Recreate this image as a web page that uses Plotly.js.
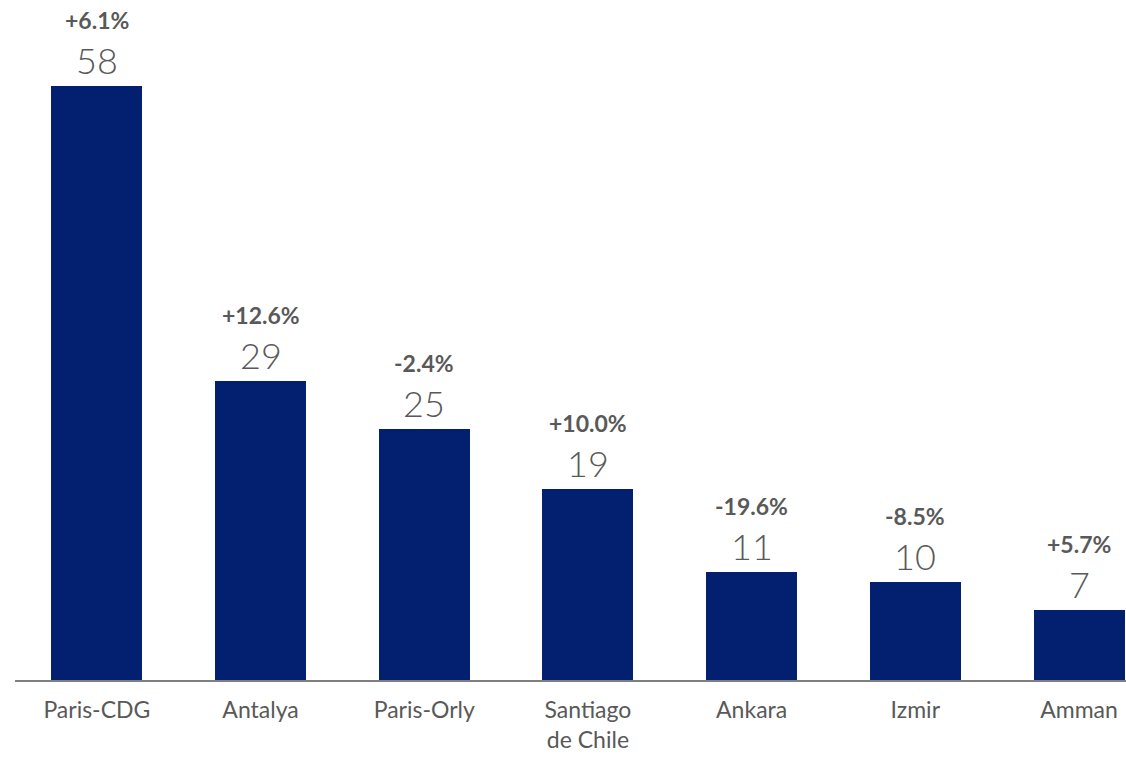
<!DOCTYPE html>
<html>
<head>
<meta charset="utf-8">
<script src="https://cdn.plot.ly/plotly-3.0.1.min.js"></script>
<style>html,body{margin:0;padding:0;background:#fff;}#chart{width:1126px;height:758px;}</style>
</head>
<body>
<div id="chart"></div>
<script>
const categories = ["Paris-CDG", "Antalya", "Paris-Orly", "Santiago<br>de Chile", "Ankara", "Izmir", "Amman"];
const values = [58.2, 29.3, 24.6, 18.7, 10.6, 9.6, 6.9];
const changes = ["+6.1%", "+12.6%", "-2.4%", "+10.0%", "-19.6%", "-8.5%", "+5.7%"];

const textGray = "#595959";
const fontFamily = "Lato, 'Open Sans', 'DejaVu Sans', sans-serif";

const trace = {
  type: "bar",
  x: categories,
  y: values,
  marker: {color: "#031F70"},
  width: 0.556,
  hoverinfo: "none"
};

const annotations = [];
categories.forEach((c, i) => {
  annotations.push({
    x: c, y: values[i], xref: "x", yref: "y",
    text: Math.round(values[i]).toString(),
    showarrow: false, yanchor: "bottom", yshift: 2,
    font: {family: fontFamily, size: 36, color: textGray, weight: 300}
  });
  annotations.push({
    x: c, y: values[i], xref: "x", yref: "y",
    text: "<b>" + changes[i] + "</b>",
    showarrow: false, yanchor: "bottom", yshift: 50,
    font: {family: fontFamily, size: 23, color: textGray}
  });
});

const layout = {
  width: 1126, height: 758,
  margin: {l: 15, r: 0, t: 0, b: 78},
  paper_bgcolor: "#fff", plot_bgcolor: "#fff",
  showlegend: false,
  bargap: 0,
  xaxis: {
    type: "category",
    range: [-0.5, 6.287],
    showline: true, linecolor: "#7f7f7f", linewidth: 2,
    ticks: "", showgrid: false, zeroline: false,
    ticklabelstandoff: 8,
    tickfont: {family: fontFamily, size: 23, color: textGray},
    fixedrange: true
  },
  yaxis: {
    range: [0, 66.67],
    visible: false, showgrid: false, zeroline: false,
    fixedrange: true
  },
  annotations: annotations
};

Plotly.newPlot("chart", [trace], layout, {displayModeBar: false, staticPlot: true});
</script>
</body>
</html>
